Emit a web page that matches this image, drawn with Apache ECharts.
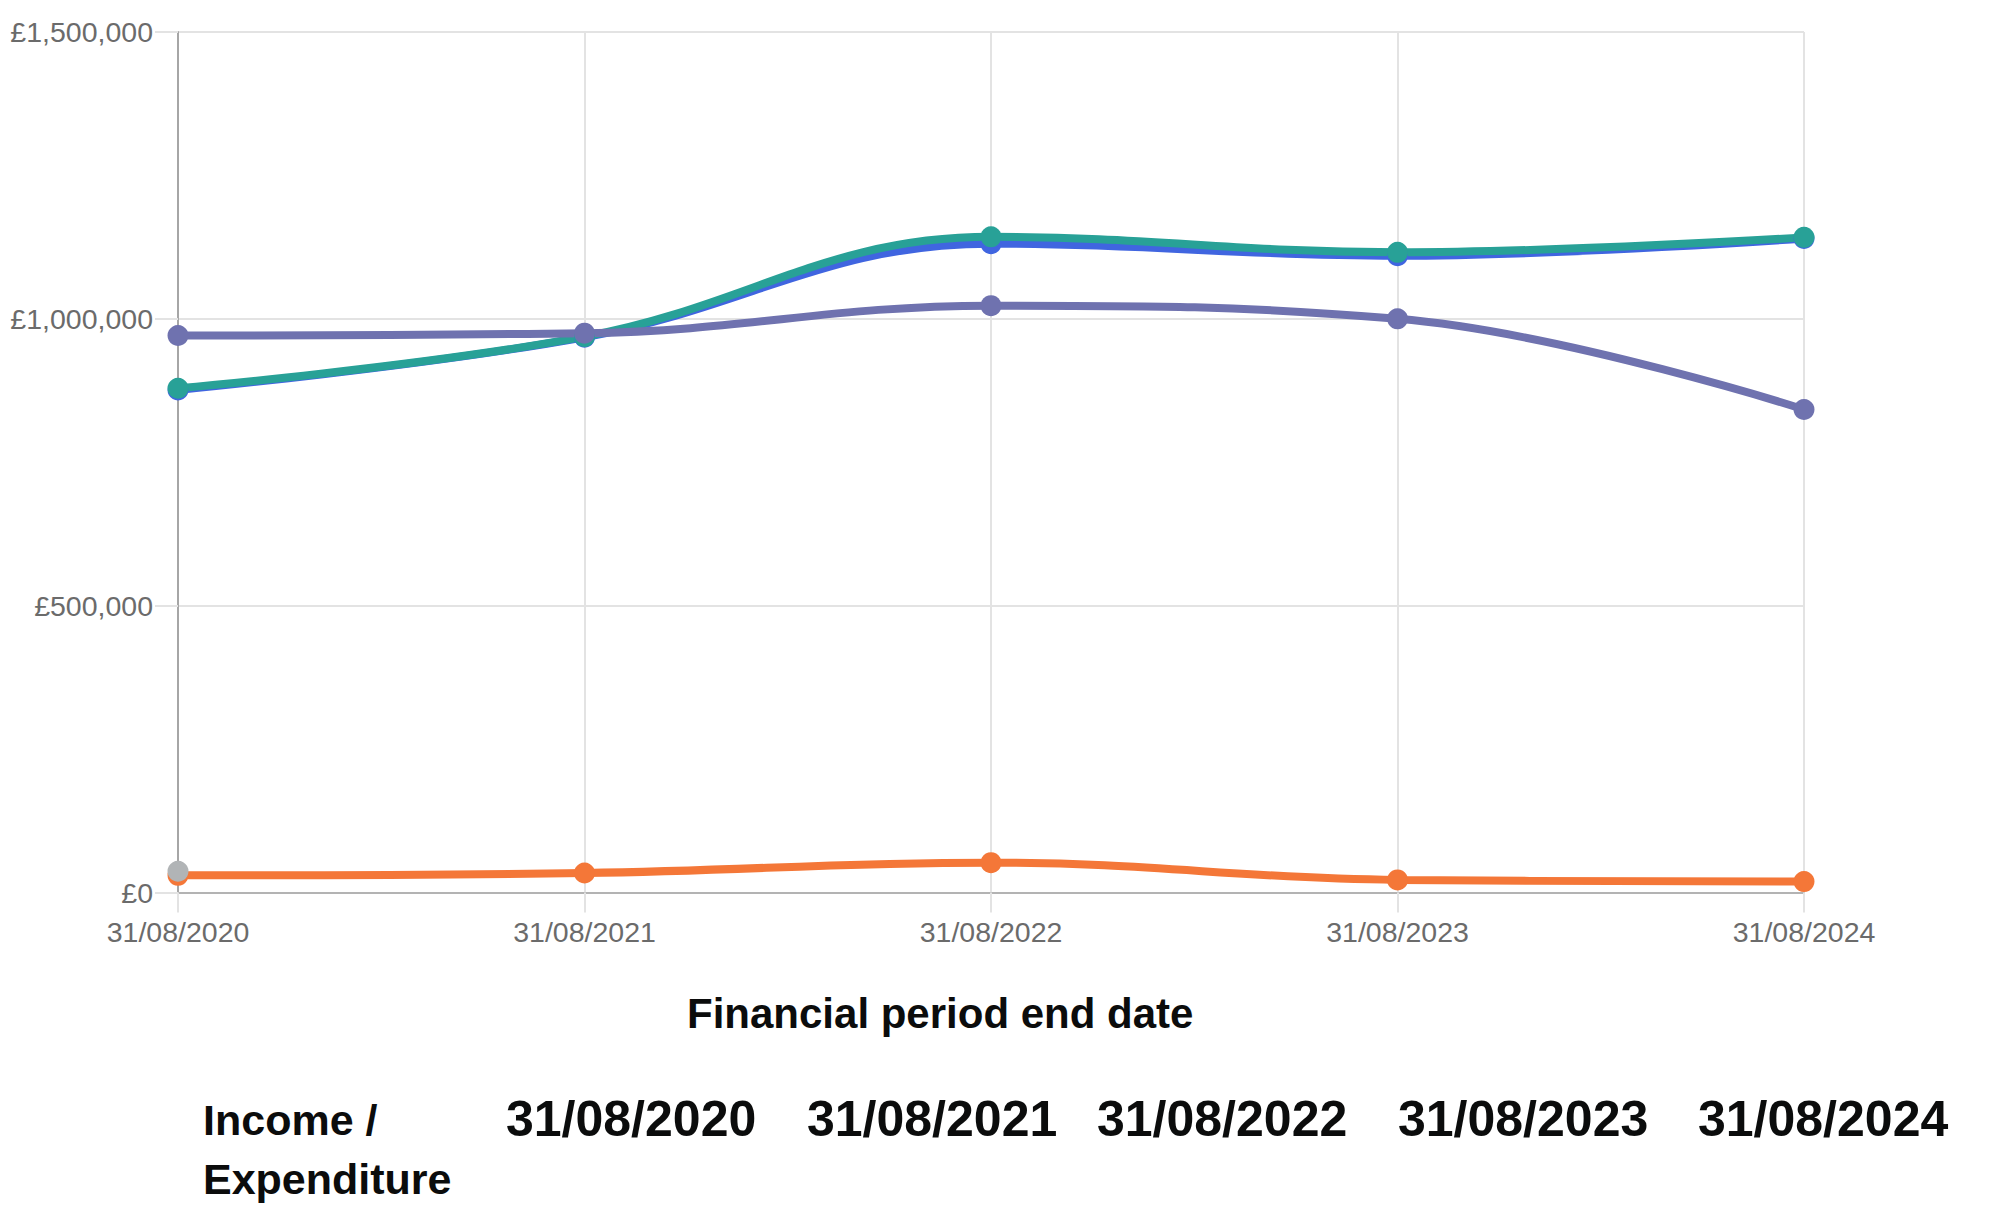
<!DOCTYPE html>
<html>
<head>
<meta charset="utf-8">
<script src="https://cdn.jsdelivr.net/npm/echarts@6/dist/echarts.min.js"></script>
<style>
html,body{margin:0;padding:0;background:#fff;}
#chart{width:2000px;height:1221px;}
</style>
</head>
<body>
<div id="chart"></div>
<script>
const categories = ['31/08/2020', '31/08/2021', '31/08/2022', '31/08/2023', '31/08/2024'];
const yTickValues = [0, 500000, 1000000, 1500000];
const yTickLabels = ['£0', '£500,000', '£1,000,000', '£1,500,000'];
const xAxisTitle = 'Financial period end date';
const tableHeaderFirst = ['Income /', 'Expenditure'];
const tableHeaderDates = ['31/08/2020', '31/08/2021', '31/08/2022', '31/08/2023', '31/08/2024'];

const blueValues = [876000, 968000, 1131000, 1110000, 1140000];
const greenValues = [879000, 969000, 1143000, 1116000, 1142000];
const purpleValues = [971000, 975000, 1023000, 1000000, 842000];
const orangeValues = [30000, 34000, 52000, 22000, 19000];
const greyValues = [37000, null, null, null, null];

const chart = echarts.init(document.getElementById('chart'), null, {renderer: 'svg'});
const tickFont = 'Liberation Sans, Arial, sans-serif';
const boldFont = 'Liberation Sans, Arial, sans-serif';

function lineSeries(name, data, color) {
  return {
    name: name, type: 'line', data: data, smooth: 0.4,
    symbol: 'circle', symbolSize: 21, showSymbol: true,
    lineStyle: {color: color, width: 8},
    itemStyle: {color: color},
    emphasis: {disabled: true},
    animation: false
  };
}

const option = {
  animation: false,
  grid: {left: 178, right: 196, top: 32, bottom: 328.5, containLabel: false},
  xAxis: {
    type: 'category', data: categories, boundaryGap: false,
    axisLine: {show: true, lineStyle: {color: '#b3b3b3', width: 2}},
    axisTick: {show: true, length: 20, lineStyle: {color: '#e3e3e3', width: 2}},
    axisLabel: {color: '#6b6b6b', fontSize: 28.5, fontFamily: tickFont, margin: 25},
    splitLine: {show: true, lineStyle: {color: '#e3e3e3', width: 2}}
  },
  yAxis: {
    type: 'value', min: 0, max: 1500000, interval: 500000,
    axisLine: {show: true, lineStyle: {color: '#a6a6a6', width: 2}},
    axisTick: {show: true, length: 23, lineStyle: {color: '#e3e3e3', width: 2}},
    axisLabel: {
      color: '#6b6b6b', fontSize: 28.5, fontFamily: tickFont, margin: 25,
      formatter: function (v) { const i = yTickValues.indexOf(v); return i >= 0 ? yTickLabels[i] : ''; }
    },
    splitLine: {show: true, lineStyle: {color: '#e3e3e3', width: 2}}
  },
  series: [
    lineSeries('Blue', blueValues, '#4065e0'),
    lineSeries('Green', greenValues, '#28a197'),
    lineSeries('Purple', purpleValues, '#6f72af'),
    lineSeries('Orange', orangeValues, '#f47738'),
    lineSeries('Grey', greyValues, '#b1b4b6')
  ],
  graphic: [
    {type: 'text', left: 940 - 253, top: 1018 - 26, silent: true,
     style: {text: xAxisTitle, fill: '#0b0c0c', font: 'bold 42px ' + boldFont}},
    {type: 'text', left: 203, top: 1124 - 26, silent: true,
     style: {text: tableHeaderFirst[0], fill: '#0b0c0c', font: 'bold 43px ' + boldFont}},
    {type: 'text', left: 203, top: 1183 - 26, silent: true,
     style: {text: tableHeaderFirst[1], fill: '#0b0c0c', font: 'bold 43px ' + boldFont}}
  ].concat(tableHeaderDates.map(function (d, i) {
    const lefts = [506, 807, 1097, 1398, 1698];
    return {type: 'text', left: lefts[i], top: 1124 - 30, silent: true,
            style: {text: d, fill: '#0b0c0c', font: 'bold 50px ' + boldFont}};
  }))
};
chart.setOption(option);
</script>
</body>
</html>
